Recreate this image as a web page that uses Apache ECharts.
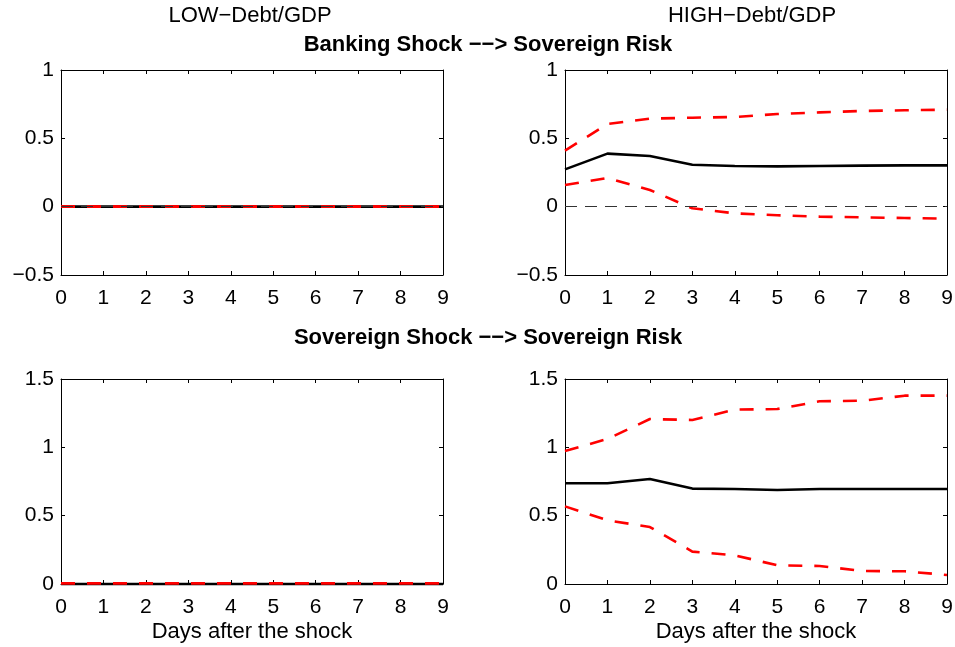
<!DOCTYPE html>
<html>
<head>
<meta charset="utf-8">
<script src="https://cdn.jsdelivr.net/npm/echarts@6/dist/echarts.min.js"></script>
<style>
  html, body { margin: 0; padding: 0; background: #fff; }
  #chart { width: 955px; height: 647px; }
</style>
</head>
<body>
<div id="chart"></div>
<script>
// Horizon (days after the shock)
const days = [0, 1, 2, 3, 4, 5, 6, 7, 8, 9];

// Banking shock -> sovereign risk, LOW debt/GDP
const lowBankIrf   = [0, 0, 0, 0, 0, 0, 0, 0, 0, 0];
const lowBankUpper = [0, 0, 0, 0, 0, 0, 0, 0, 0, 0];
const lowBankLower = [0, 0, 0, 0, 0, 0, 0, 0, 0, 0];

// Banking shock -> sovereign risk, HIGH debt/GDP
const highBankIrf   = [0.273, 0.388, 0.371, 0.307, 0.298, 0.295, 0.298, 0.300, 0.302, 0.302];
const highBankUpper = [0.410, 0.605, 0.644, 0.651, 0.656, 0.678, 0.690, 0.700, 0.705, 0.710];
const highBankLower = [0.159, 0.210, 0.122, -0.012, -0.049, -0.063, -0.073, -0.078, -0.083, -0.088];

// Sovereign shock -> sovereign risk, LOW debt/GDP
const lowSovIrf   = [0, 0, 0, 0, 0, 0, 0, 0, 0, 0];
const lowSovUpper = [0.006, 0.006, 0.006, 0.006, 0.006, 0.006, 0.006, 0.006, 0.006, 0.006];
const lowSovLower = [0.006, 0.006, 0.006, 0.006, 0.006, 0.006, 0.006, 0.006, 0.006, 0.006];

// Sovereign shock -> sovereign risk, HIGH debt/GDP
const highSovIrf   = [0.737, 0.737, 0.768, 0.698, 0.695, 0.688, 0.695, 0.695, 0.695, 0.695];
const highSovUpper = [0.973, 1.061, 1.207, 1.200, 1.276, 1.280, 1.337, 1.341, 1.378, 1.378];
const highSovLower = [0.568, 0.466, 0.417, 0.237, 0.210, 0.137, 0.132, 0.095, 0.093, 0.066];

// Axis tick values
const xTicks = { min: 0, max: 9, interval: 1 };
const yTicksTop = { min: -0.5, max: 1, interval: 0.5 };
const yTicksBottom = { min: 0, max: 1.5, interval: 0.5 };

// Text
const colTitles = ['LOW\u2212Debt/GDP', 'HIGH\u2212Debt/GDP'];
const rowTitles = ['Banking Shock \u2212\u2212> Sovereign Risk', 'Sovereign Shock \u2212\u2212> Sovereign Risk'];
const xAxisName = 'Days after the shock';

const FONT = '"Liberation Sans", Arial, Helvetica, sans-serif';
const FS_TEXT = 22;
const FS_TICK = 21;

const grids = [
  { left: 61, top: 70, width: 382, height: 205 },
  { left: 565, top: 70, width: 382, height: 205 },
  { left: 61, top: 379, width: 382, height: 205 },
  { left: 565, top: 379, width: 382, height: 205 }
].map(g => ({ ...g, containLabel: false, outerBoundsMode: 'none' }));

const panels = [
  { irf: lowBankIrf, up: lowBankUpper, lo: lowBankLower, y: yTicksTop, zero: true, redOnTop: true },
  { irf: highBankIrf, up: highBankUpper, lo: highBankLower, y: yTicksTop, zero: true, redOnTop: false },
  { irf: lowSovIrf, up: lowSovUpper, lo: lowSovLower, y: yTicksBottom, zero: false, redOnTop: true },
  { irf: highSovIrf, up: highSovUpper, lo: highSovLower, y: yTicksBottom, zero: false, redOnTop: false }
];

const minusFmt = v => String(v).replace('-', '\u2212');
const axisLine = { show: true, onZero: false, lineStyle: { color: '#000', width: 1 } };
const tickIn = { show: true, inside: true, length: 4, lineStyle: { color: '#000', width: 1 } };

const xAxes = [], yAxes = [], series = [];
panels.forEach((p, i) => {
  const bottomRow = i >= 2;
  // main axes (bottom / left)
  xAxes.push({
    type: 'value', gridIndex: i, position: 'bottom', ...xTicks,
    axisLine, axisTick: tickIn, splitLine: { show: false },
    axisLabel: { color: '#000', fontSize: FS_TICK, fontFamily: FONT, margin: 13 },
    name: bottomRow ? xAxisName : '', nameLocation: 'middle', nameGap: 37,
    nameTextStyle: { color: '#000', fontSize: FS_TEXT, fontFamily: FONT }
  });
  yAxes.push({
    type: 'value', gridIndex: i, position: 'left', ...p.y,
    axisLine, axisTick: tickIn, splitLine: { show: false },
    axisLabel: { color: '#000', fontSize: FS_TICK, fontFamily: FONT, margin: 7, formatter: minusFmt }
  });
  // mirror axes (top / right) for the box and inner ticks
  xAxes.push({
    type: 'value', gridIndex: i, position: 'top', ...xTicks,
    axisLine, axisTick: tickIn, splitLine: { show: false }, axisLabel: { show: false }
  });
  yAxes.push({
    type: 'value', gridIndex: i, position: 'right', ...p.y,
    axisLine, axisTick: tickIn, splitLine: { show: false }, axisLabel: { show: false }
  });

  const xi = i * 2, yi = i * 2;
  const pts = arr => days.map((d, k) => [d, arr[k]]);
  const black = {
    type: 'line', xAxisIndex: xi, yAxisIndex: yi, data: pts(p.irf),
    symbol: 'none', clip: false, silent: true,
    lineStyle: { color: '#000', width: 2.6 },
    z: p.redOnTop ? 2 : 3
  };
  if (p.zero) {
    black.markLine = {
      silent: true, symbol: 'none', label: { show: false },
      lineStyle: { color: '#333', width: 1, type: [12, 8] },
      data: [{ yAxis: 0 }]
    };
  }
  const red = arr => ({
    type: 'line', xAxisIndex: xi, yAxisIndex: yi, data: pts(arr),
    symbol: 'none', clip: false, silent: true,
    lineStyle: { color: '#ff0000', width: 2.6, type: [14, 12] },
    z: p.redOnTop ? 3 : 2
  });
  series.push(black, red(p.up), red(p.lo));
});

const titles = [
  { text: colTitles[0], left: 250, top: 5, textAlign: 'center', textStyle: { fontWeight: 'normal' } },
  { text: colTitles[1], left: 752, top: 5, textAlign: 'center', textStyle: { fontWeight: 'normal' } },
  { text: rowTitles[0], left: 488, top: 34, textAlign: 'center', textStyle: { fontWeight: 'bold' } },
  { text: rowTitles[1], left: 488, top: 327, textAlign: 'center', textStyle: { fontWeight: 'bold' } }
].map(t => ({
  ...t, padding: 0,
  textStyle: { color: '#000', fontSize: FS_TEXT, fontFamily: FONT, ...t.textStyle }
}));

const chart = echarts.init(document.getElementById('chart'), null, { renderer: 'canvas' });
chart.setOption({
  backgroundColor: '#fff',
  animation: false,
  title: titles,
  grid: grids,
  xAxis: xAxes,
  yAxis: yAxes,
  series
});
</script>
</body>
</html>
